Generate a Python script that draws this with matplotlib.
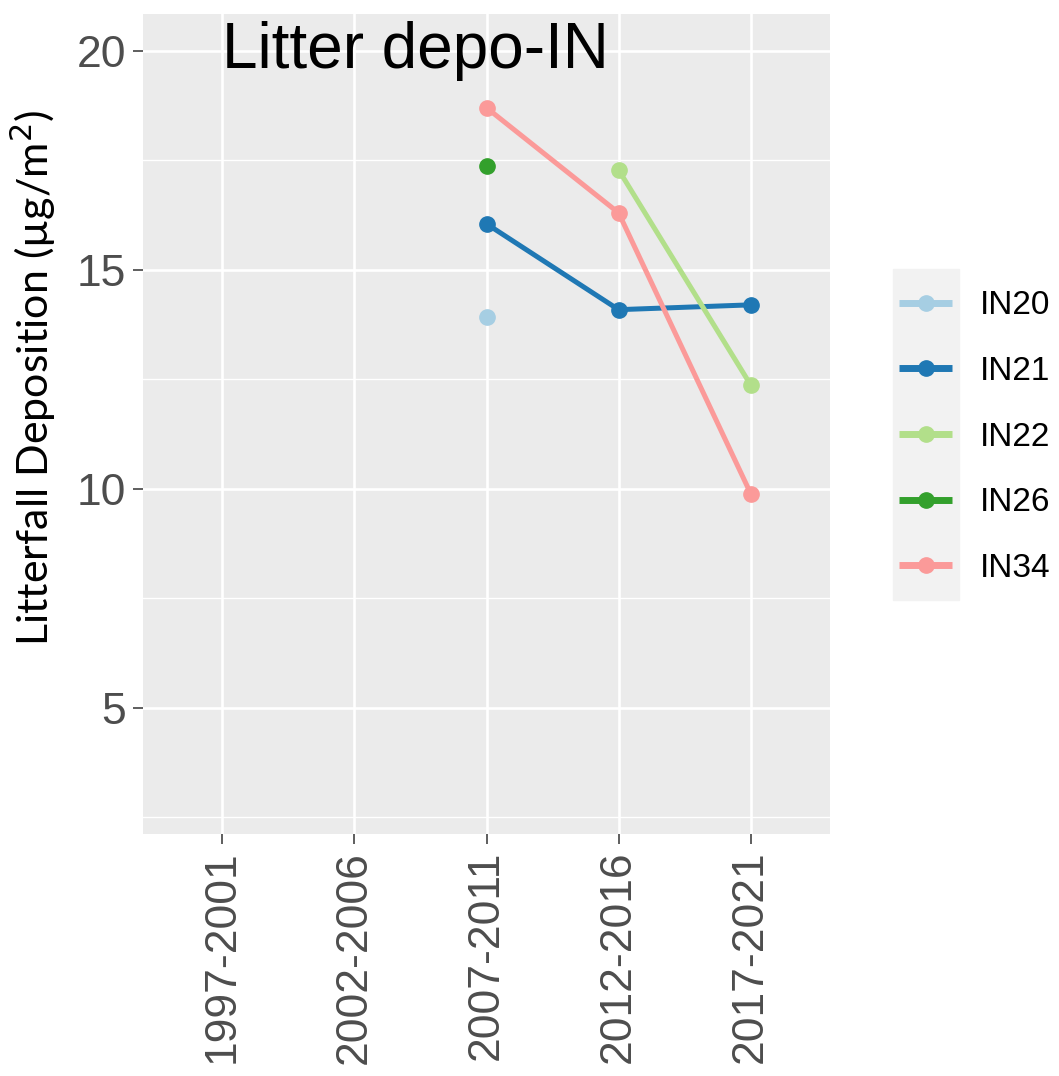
import numpy as np
import matplotlib
matplotlib.use("Agg")
import matplotlib.pyplot as plt
from matplotlib.patches import Rectangle

# Data
periods = ["1997-2001", "2002-2006", "2007-2011", "2012-2016", "2017-2021"]
sites = ["IN20", "IN21", "IN22", "IN26", "IN34"]
in20 = [np.nan, np.nan, 13.93, np.nan, np.nan]
in21 = [np.nan, np.nan, 16.05, 14.09, 14.20]
in22 = [np.nan, np.nan, np.nan, 17.28, 12.37]
in26 = [np.nan, np.nan, 17.37, np.nan, np.nan]
in34 = [np.nan, np.nan, 18.70, 16.30, 9.89]
colors = ["#A6CEE3", "#1F78B4", "#B2DF8A", "#33A02C", "#FB9A99"]

fig = plt.figure(figsize=(10.59, 10.76), dpi=100)
ax = fig.add_axes([143 / 1059, 1 - 834 / 1076, 687 / 1059, 820 / 1076])
ax.set_facecolor("#EBEBEB")

x = np.arange(len(periods))
for i, (name, vals) in enumerate(zip(sites, [in20, in21, in22, in26, in34])):
    ax.plot(x, vals, color=colors[i], lw=3.6, marker="o", ms=11,
            label=name, zorder=3 + i, solid_capstyle="butt")

ax.set_xlim(-0.6, 4.6)
ax.set_ylim(2.12, 20.84)
ax.set_xticks(x)
ax.set_xticklabels(periods, rotation=90)
ax.set_yticks([5, 10, 15, 20])
ax.set_yticks([2.5, 7.5, 12.5, 17.5], minor=True)
ax.grid(which="major", color="white", lw=1.9)
ax.grid(which="minor", axis="y", color="white", lw=1.0)
ax.set_axisbelow(True)
for s in ax.spines.values():
    s.set_visible(False)
ax.tick_params(which="major", length=7, width=1.1, color="#333333",
               labelsize=32, labelcolor="#4D4D4D", pad=5)
ax.tick_params(which="minor", length=0)
for lab in ax.get_xticklabels() + ax.get_yticklabels():
    lab.set_family(["Liberation Sans", "DejaVu Sans"])

ax.text(0, 20, "Litter depo-IN", ha="left", va="center", fontsize=46,
        family=["Liberation Sans", "DejaVu Sans"], color="black", zorder=10)

fig.text(33 / 1059, 1 - 378 / 1076, "Litterfall Deposition (µg/m$^2$)",
         rotation=90, ha="center", va="center", fontsize=31, family="Lato")

# legend key background
fig.add_artist(Rectangle((893 / 1059, 1 - 600 / 1076), 66 / 1059, 331 / 1076,
                         transform=fig.transFigure, color="#F2F2F2", zorder=0))
leg = ax.legend(loc="center left", bbox_to_anchor=(899 / 1059, 1 - 437 / 1076),
                bbox_transform=fig.transFigure, frameon=False,
                handlelength=1.6, labelspacing=1.04, handletextpad=0.84,
                borderpad=0, borderaxespad=0,
                prop={"family": "Liberation Sans", "size": 24})
for line in leg.get_lines():
    line.set_linewidth(5)

fig.savefig("out.png", dpi=100)
